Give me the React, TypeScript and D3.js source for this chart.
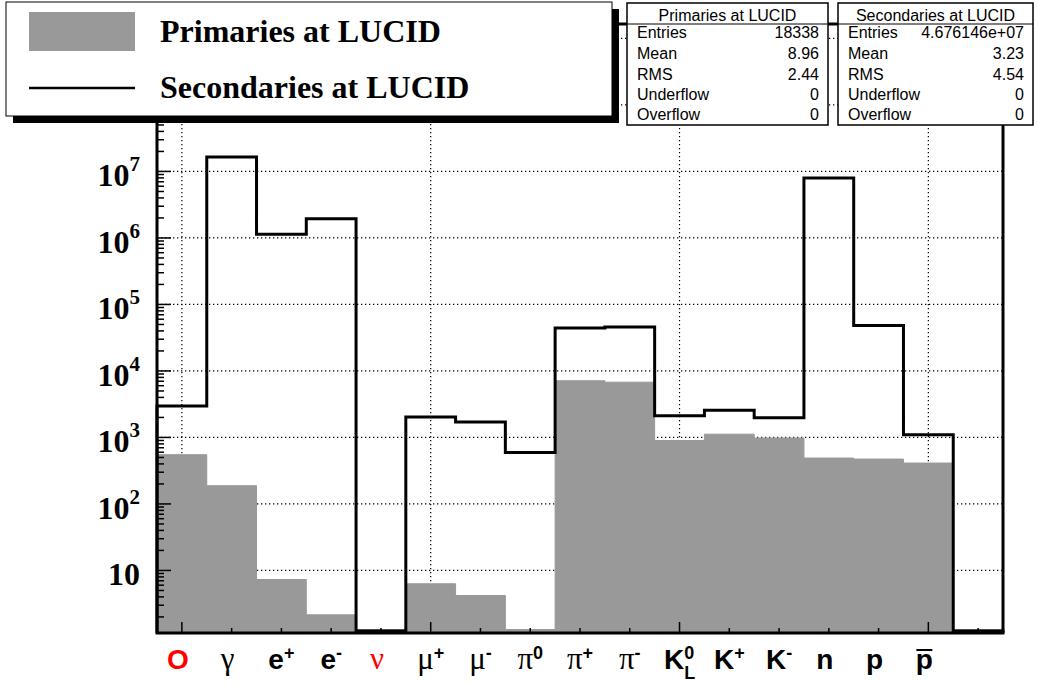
import React from "react";
import * as d3 from "d3";

// ---- data ----
const categories = ["O", "γ", "e+", "e-", "ν", "μ+", "μ-", "π0", "π+", "π-", "K0_L", "K+", "K-", "n", "p", "p̄", ""];
const primaries = [550, 188, 7.3, 2.15, 0, 6.3, 4.2, 0, 7120, 6780, 900, 1120, 980, 490, 473, 412, 0];
const secondaries = [2960, 1.65e7, 1.14e6, 1.94e6, 0, 2030, 1700, 595, 44200, 45700, 2120, 2570, 1980, 7.95e6, 48300, 1100, 0];
const yDecades = [1, 2, 3, 4, 5, 6, 7, 8, 9];
const xGridTicks = [0, 5, 10, 15];
const legendLabels = ["Primaries at LUCID", "Secondaries at LUCID"];
const statRows = ["Entries", "Mean", "RMS", "Underflow", "Overflow"];
const primaryStats = ["18338", "8.96", "2.44", "0", "0"];
const secondaryStats = ["4.676146e+07", "3.23", "4.54", "0", "0"];
const highlighted = ["O", "ν"];

const SERIF = "'Liberation Serif', 'Times New Roman', serif";
const SANS = "'Liberation Sans', Arial, Helvetica, sans-serif";

function parseLabel(c: string) {
  if (c.endsWith("_L")) return { base: c[0], sup: "0", sub: "L", bar: false };
  if (c === "p̄") return { base: "p", sup: "", sub: "", bar: true };
  return { base: c.slice(0, 1), sup: c.slice(1), sub: "", bar: false };
}

function StatsBox({ x0, x1, title, values }: { x0: number; x1: number; title: string; values: string[] }) {
  const top = 3, bottom = 125, sep = 24;
  const rowY = [38, 58.5, 79.5, 100, 120];
  return (
    <g>
      <rect x={x0} y={top} width={x1 - x0} height={bottom - top} fill="white" stroke="black" strokeWidth={1.5} />
      <line x1={x0} x2={x1} y1={sep} y2={sep} stroke="black" strokeWidth={1} />
      <text x={(x0 + x1) / 2} y={20.5} textAnchor="middle" fontFamily={SANS} fontSize={16}>{title}</text>
      {statRows.map((r, i) => (
        <g key={r}>
          <text x={x0 + 10} y={rowY[i]} fontFamily={SANS} fontSize={16}>{r}</text>
          <text x={x1 - 9} y={rowY[i]} textAnchor="end" fontFamily={SANS} fontSize={16}>{values[i]}</text>
        </g>
      ))}
    </g>
  );
}

export default function App() {
  const W = 1037, H = 684;
  const L = 157, R = 1003, T = 24, B = 633;
  const n = categories.length;
  const x = d3.scaleLinear().domain([-0.5, n - 0.5]).range([L, R]);
  const yMin = 1.146, yMax = 1.65e9;
  const y = d3.scaleLog().domain([yMin, yMax]).range([B, T]);

  const stepPts = (vals: number[], lift: number): [number, number][] => {
    const pts: [number, number][] = [[x(-0.5), B]];
    vals.forEach((v, i) => {
      const yy = Math.min(y(Math.max(v, yMin)), B - lift);
      pts.push([x(i - 0.5), yy], [x(i + 0.5), yy]);
    });
    pts.push([x(n - 0.5), B]);
    return pts;
  };
  const line = d3.line();
  const grayD = line(stepPts(primaries, 3.5)) + "Z";
  const blackD = line(stepPts(secondaries, 2)) || "";

  const minorY: number[] = [];
  for (let d = 0; d <= 9; d++) {
    for (let m = 2; m <= 9; m++) {
      const v = m * Math.pow(10, d);
      if (v > yMin && v < yMax) minorY.push(v);
    }
  }

  return (
    <svg width={W} height={H} style={{ position: "absolute", left: 0, top: 0, background: "white" }}>
      <rect x={0} y={0} width={W} height={H} fill="white" />
      {/* grid */}
      <g stroke="black" strokeWidth={1.2} strokeDasharray="1.3,2.7">
        {yDecades.map((d) => (
          <line key={"h" + d} x1={L} x2={R} y1={y(Math.pow(10, d))} y2={y(Math.pow(10, d))} />
        ))}
        {xGridTicks.map((t) => (
          <line key={"v" + t} x1={x(t)} x2={x(t)} y1={T} y2={B} />
        ))}
      </g>
      {/* histograms */}
      <path d={grayD} fill="#999999" stroke="#999999" strokeWidth={1} />
      <path d={blackD} fill="none" stroke="black" strokeWidth={3} strokeLinejoin="miter" />
      {/* frame */}
      <rect x={L} y={T} width={R - L} height={B - T} fill="none" stroke="black" strokeWidth={3} />
      {/* ticks */}
      <g stroke="black" strokeWidth={1.5}>
        {categories.map((_, i) => (
          <line key={"xt" + i} x1={x(i)} x2={x(i)} y1={B} y2={B - (i % 5 === 0 ? 11 : 5)} />
        ))}
        {yDecades.map((d) => (
          <line key={"yt" + d} x1={L} x2={L + 14} y1={y(Math.pow(10, d))} y2={y(Math.pow(10, d))} />
        ))}
        {minorY.map((v) => (
          <line key={"ym" + v} x1={L} x2={L + 7} y1={y(v)} y2={y(v)} />
        ))}
      </g>
      {/* y labels */}
      {yDecades.map((d) => (
        <text key={"yl" + d} x={140} y={y(Math.pow(10, d)) + 15} textAnchor="end" fontFamily={SERIF} fontWeight="bold" fontSize={32}>
          <tspan>10</tspan>
          {d > 1 ? <tspan fontSize={21} dy={-15}>{String(d)}</tspan> : null}
        </text>
      ))}
      {/* x labels */}
      {categories.map((c, i) => {
        if (!c) return null;
        const lab = parseLabel(c);
        const greek = /[\u0370-\u03ff]/.test(lab.base);
        const color = highlighted.includes(c) ? "#ff0000" : "black";
        const shift = lab.sup ? 0 : -4;
        const cx = x(i) + shift;
        return (
          <g key={"xl" + i}>
            <text x={cx} y={669} textAnchor="middle" fill={color}>
              <tspan fontFamily={greek ? SERIF : SANS} fontWeight={greek ? "normal" : "bold"} fontSize={greek ? 31 : 28}>{lab.base}</tspan>
              {lab.sup ? (
                <tspan fontFamily={SANS} fontWeight="bold" fontSize={18} dy={-10}>{lab.sup}</tspan>
              ) : null}
              {lab.sub ? (
                <tspan fontFamily={SANS} fontWeight="bold" fontSize={18} dx={-10} dy={20}>{lab.sub}</tspan>
              ) : null}
            </text>
            {lab.bar ? <line x1={cx - 8} x2={cx + 8} y1={650} y2={650} stroke={color} strokeWidth={2} /> : null}
          </g>
        );
      })}
      {/* legend */}
      <path d="M612,9 L619,9 L619,123 L13,123 L13,116 L612,116 Z" fill="black" />
      <rect x={6} y={2} width={606} height={114} fill="white" stroke="black" strokeWidth={1} />
      <rect x={29} y={12} width={106} height={39} fill="#999999" />
      <line x1={29} x2={135} y1={88} y2={88} stroke="black" strokeWidth={2.5} />
      <text x={160} y={42} fontFamily={SERIF} fontWeight="bold" fontSize={32}>{legendLabels[0]}</text>
      <text x={160} y={98} fontFamily={SERIF} fontWeight="bold" fontSize={32}>{legendLabels[1]}</text>
      {/* stats */}
      <StatsBox x0={627} x1={828} title="Primaries at LUCID" values={primaryStats} />
      <StatsBox x0={838} x1={1033} title="Secondaries at LUCID" values={secondaryStats} />
    </svg>
  );
}
